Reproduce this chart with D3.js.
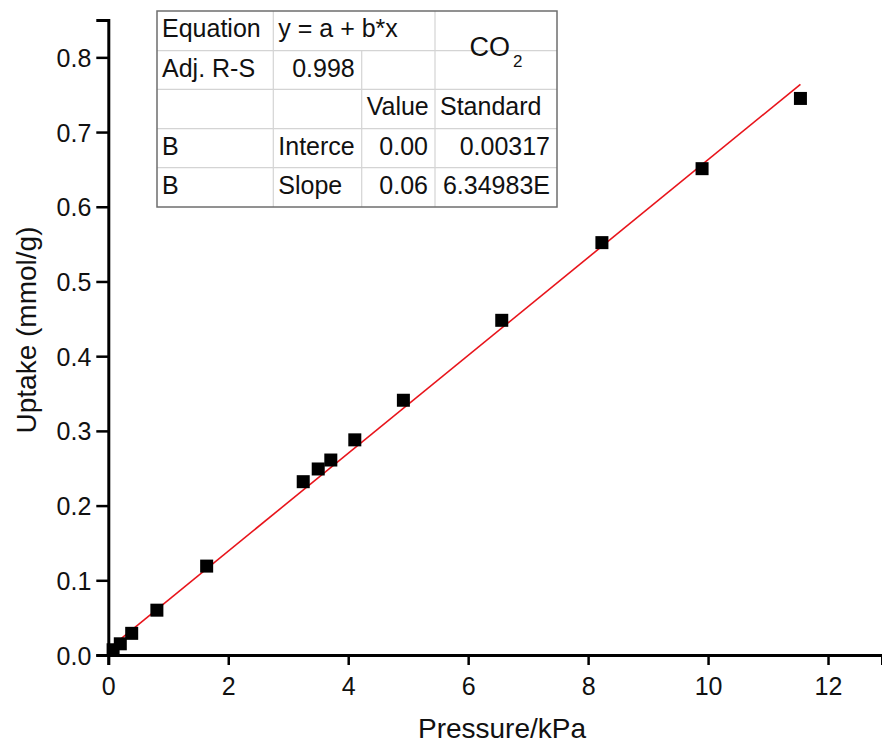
<!DOCTYPE html>
<html>
<head>
<meta charset="utf-8">
<script src="https://cdn.jsdelivr.net/npm/d3@7"></script>
<style>
  body { margin: 0; background: #fff; }
  svg { display: block; font-family: "Liberation Sans", Arial, sans-serif; }
</style>
</head>
<body>
<div id="viz"></div>
<script>
// measured points (pressure kPa, uptake mmol/g)
const pressure = [0.08, 0.2, 0.39, 0.81, 1.64, 3.25, 3.5, 3.71, 4.11, 4.92, 6.56, 8.23, 9.9, 11.54];
const uptake = [0.007, 0.015, 0.029, 0.060, 0.119, 0.232, 0.249, 0.261, 0.288, 0.341, 0.448, 0.552, 0.651, 0.745];

// linear fit drawn in red
const fitIntercept = 0.008;
const fitSlope = 0.0655;
const fitRange = [0, 11.54];

const xTicks = [0, 2, 4, 6, 8, 10, 12];
const yTicks = [0.0, 0.1, 0.2, 0.3, 0.4, 0.5, 0.6, 0.7, 0.8];

// fit report table
const tableRows = [
  ["Equation", "y = a + b*x", "", ""],
  ["Adj. R-S", "0.998", "", ""],
  ["", "", "Value", "Standard"],
  ["B", "Interce", "0.00", "0.00317"],
  ["B", "Slope", "0.06", "6.34983E"]
];
const seriesName = ["CO", "2"];

const W = 882, H = 745;
const svg = d3.select("#viz").append("svg").attr("width", W).attr("height", H);

const x = d3.scaleLinear().domain([0, 12.9]).range([108.3, 882]);
const y = d3.scaleLinear().domain([0, 0.85]).range([655, 20]);

// fit line
const line = d3.line().x(d => x(d)).y(d => y(fitIntercept + fitSlope * d));
svg.append("path")
  .datum(fitRange)
  .attr("d", line)
  .attr("fill", "none")
  .attr("stroke", "#e8141b")
  .attr("stroke-width", 1.6);

// points
const pts = pressure.map((p, i) => ({p: p, u: uptake[i]}));
const sq = 13;
svg.append("g").selectAll("rect").data(pts).join("rect")
  .attr("x", d => x(d.p) - sq / 2)
  .attr("y", d => y(d.u) - sq / 2)
  .attr("width", sq)
  .attr("height", sq)
  .attr("fill", "#000");

// axes
const minorX = d3.range(1, 13, 2);
const minorY = d3.range(0.05, 0.85, 0.1);

let gx = svg.append("g").attr("transform", `translate(0,${y(0)})`);
gx.call(d3.axisBottom(x).tickValues(minorX).tickSize(5).tickFormat(""));
gx.call(d3.axisBottom(x).tickValues(xTicks).tickSize(10).tickPadding(12).tickFormat(d3.format("d")));

let gy = svg.append("g").attr("transform", `translate(${x(0)},0)`);
gy.call(d3.axisLeft(y).tickValues(minorY).tickSize(6).tickFormat(""));
gy.call(d3.axisLeft(y).tickValues(yTicks).tickSize(12).tickPadding(5).tickFormat(d3.format(".1f")));

svg.selectAll(".domain").attr("stroke", "#000").attr("stroke-width", 3);
svg.selectAll(".tick line").attr("stroke", "#000").attr("stroke-width", 2.5);
svg.selectAll(".tick text").attr("font-size", 25).attr("fill", "#111")
  .attr("font-family", "'Liberation Sans', Arial, sans-serif");
gx.selectAll(".tick text").attr("dy", "0.71em");
gy.selectAll(".tick text").attr("dy", "0.36em");

// axis titles
svg.append("text")
  .attr("x", 502).attr("y", 738)
  .attr("text-anchor", "middle")
  .attr("font-size", 28)
  .attr("fill", "#111")
  .text("Pressure/kPa");

svg.append("text")
  .attr("transform", "translate(36,330) rotate(-90)")
  .attr("text-anchor", "middle")
  .attr("font-size", 28)
  .attr("fill", "#111")
  .text("Uptake (mmol/g)");

// table
const colX = [157, 273.3, 361.7, 435, 557];
const rowY = [11, 50.7, 89.3, 128.7, 167.7, 207];
const tbl = svg.append("g");
tbl.append("rect")
  .attr("x", colX[0]).attr("y", rowY[0])
  .attr("width", colX[4] - colX[0]).attr("height", rowY[5] - rowY[0])
  .attr("fill", "#fff");

// inner grid lines
for (let r = 1; r < 5; r++) {
  tbl.append("line").attr("x1", colX[0]).attr("x2", colX[4])
    .attr("y1", rowY[r]).attr("y2", rowY[r])
    .attr("stroke", "#d4d4d4").attr("stroke-width", 1.2);
}
[1, 3].forEach(c => {
  tbl.append("line").attr("x1", colX[c]).attr("x2", colX[c])
    .attr("y1", rowY[0]).attr("y2", rowY[5])
    .attr("stroke", "#d4d4d4").attr("stroke-width", 1.2);
});
// col 2|3 split starts below the merged equation cell
tbl.append("line").attr("x1", colX[2]).attr("x2", colX[2])
  .attr("y1", rowY[1]).attr("y2", rowY[5])
  .attr("stroke", "#d4d4d4").attr("stroke-width", 1.2);

tbl.append("rect")
  .attr("x", colX[0]).attr("y", rowY[0])
  .attr("width", colX[4] - colX[0]).attr("height", rowY[5] - rowY[0])
  .attr("fill", "none").attr("stroke", "#6e6e6e").attr("stroke-width", 1.5);

// cell alignment: left, or right for numbers
const rightAligned = (r, c) => (r === 1 && c === 1) || (r >= 3 && c >= 2);
tableRows.forEach((row, r) => {
  row.forEach((txt, c) => {
    if (!txt) return;
    let right = rightAligned(r, c);
    tbl.append("text")
      .attr("x", right ? colX[c + 1] - 7 : colX[c] + 5)
      .attr("y", rowY[r] + 26)
      .attr("text-anchor", right ? "end" : "start")
      .attr("font-size", 25)
      .attr("fill", "#111")
      .text(txt);
  });
});

// series name CO2
const co = tbl.append("text")
  .attr("x", (colX[3] + colX[4]) / 2)
  .attr("y", 56)
  .attr("text-anchor", "middle")
  .attr("font-size", 27)
  .attr("fill", "#111");
co.append("tspan").text(seriesName[0]);
co.append("tspan").attr("font-size", 17).attr("dy", 11).attr("dx", 3).text(seriesName[1]);
</script>
</body>
</html>
